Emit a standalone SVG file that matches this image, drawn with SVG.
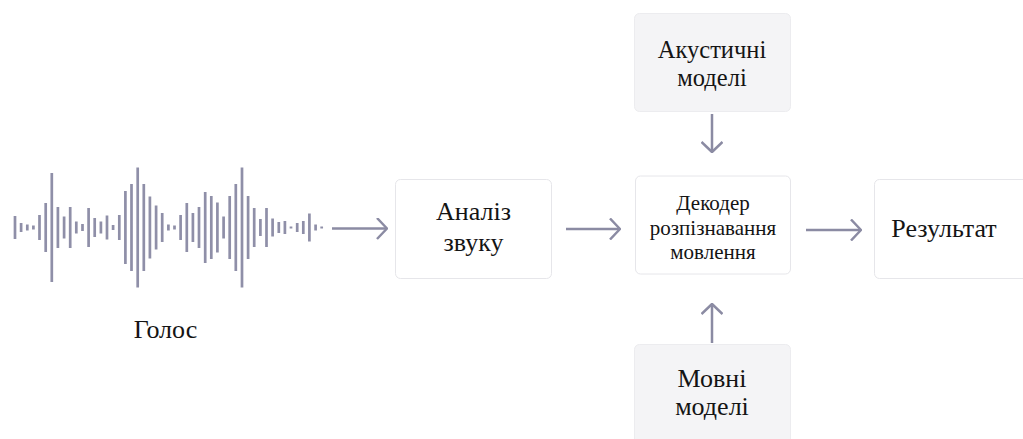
<svg xmlns="http://www.w3.org/2000/svg" width="1023" height="439" viewBox="0 0 1023 439">
  <style>
    .box { fill: #ffffff; stroke: #e6e6ea; stroke-width: 1; }
    .box-muted { fill: #f4f4f6; stroke: #ececef; stroke-width: 1; }
    .label { font-family: "Liberation Serif", "Times New Roman", serif; fill: #141414; text-anchor: middle; }
    .lg { font-size: 26px; }
    .md { font-size: 24.5px; }
    .sm { font-size: 21px; }
    .edge { fill: none; stroke: #8b8ba3; stroke-width: 2.5; marker-end: url(#chevron); }
    .wave { fill: none; stroke: #8f8fa8; stroke-width: 2.7; }
  </style>
  <defs>
    <marker id="chevron" viewBox="0 0 12 22" refX="11" refY="11" markerWidth="12" markerHeight="22" markerUnits="userSpaceOnUse" orient="auto">
      <path d="M1,0.5 L11,11 L1,21.5" fill="none" stroke="#8b8ba3" stroke-width="2.5" stroke-linejoin="round"/>
    </marker>
  </defs>
  <rect width="1023" height="439" fill="#ffffff"/>

  <!-- voice waveform -->
  <g id="voice">
    <path class="wave" d="M15 216V239M21.1 223V232M27.3 224.5V230.5M33.4 225.5V229.5M39.5 215V240M45.7 203V252M51.8 173V282M57.9 207V248M64.1 216.5V238.5M70.2 207V248M76.3 221.5V233.5M82.5 224V231M88.6 208V247M94.7 218V237M100.9 221.5V233.5M107 215.5V239.5M113.1 225V230M119.3 215V240M125.4 191V264M131.5 184V271M137.7 167.5V287.5M143.8 184V271M149.9 196.5V258.5M156.1 205.5V249.5M162.2 213V242M168.4 224.5V230.5M174.5 225.5V229.5M180.6 215V240M186.8 203V252M192.9 213V242M199 207V248M205.2 192V263M211.3 196V259M217.4 202.5V252.5M223.6 216.5V238.5M229.7 196V259M235.8 184V271M242 167.5V287.5M248.1 196V259M254.2 208V247M260.4 219V236M266.5 208V247M272.6 218.5V236.5M278.8 222V233M284.9 221V234M291 226.5V228.5M297.2 223V232M303.3 221V234M309.4 213.5V241.5M315.6 224.5V230.5M321.7 226.5V228.5"/>
    <text class="label lg" x="165.5" y="338">Голос</text>
  </g>

  <g id="analysis">
    <rect class="box" x="395.5" y="179.5" width="156" height="99" rx="5"/>
    <text class="label lg" x="473.5" y="220">Аналіз</text>
    <text class="label lg" x="473.5" y="251">звуку</text>
  </g>

  <g id="acoustic-models">
    <rect class="box-muted" x="634.5" y="13.5" width="156" height="98" rx="5"/>
    <text class="label md" x="712" y="58">Акустичні</text>
    <text class="label md" x="712" y="85.5">моделі</text>
  </g>

  <g id="decoder">
    <rect class="box" x="635.5" y="176" width="155" height="98" rx="5"/>
    <text class="label sm" x="713" y="210">Декодер</text>
    <text class="label sm" x="713" y="235">розпізнавання</text>
    <text class="label sm" x="713" y="259">мовлення</text>
  </g>

  <g id="language-models">
    <rect class="box-muted" x="634.5" y="344.5" width="156" height="110" rx="5"/>
    <text class="label lg" x="712" y="387">Мовні</text>
    <text class="label lg" x="712" y="415">моделі</text>
  </g>

  <g id="result">
    <rect class="box" x="874.5" y="179.5" width="160" height="99" rx="5"/>
    <text class="label lg" x="944" y="237">Результат</text>
  </g>

  <g id="connectors">
    <path class="edge" d="M332,228.5 H387"/>
    <path class="edge" d="M566,229 H620"/>
    <path class="edge" d="M806,230 H861"/>
    <path class="edge" d="M712,114 V152"/>
    <path class="edge" d="M712,343 V304"/>
  </g>
</svg>
